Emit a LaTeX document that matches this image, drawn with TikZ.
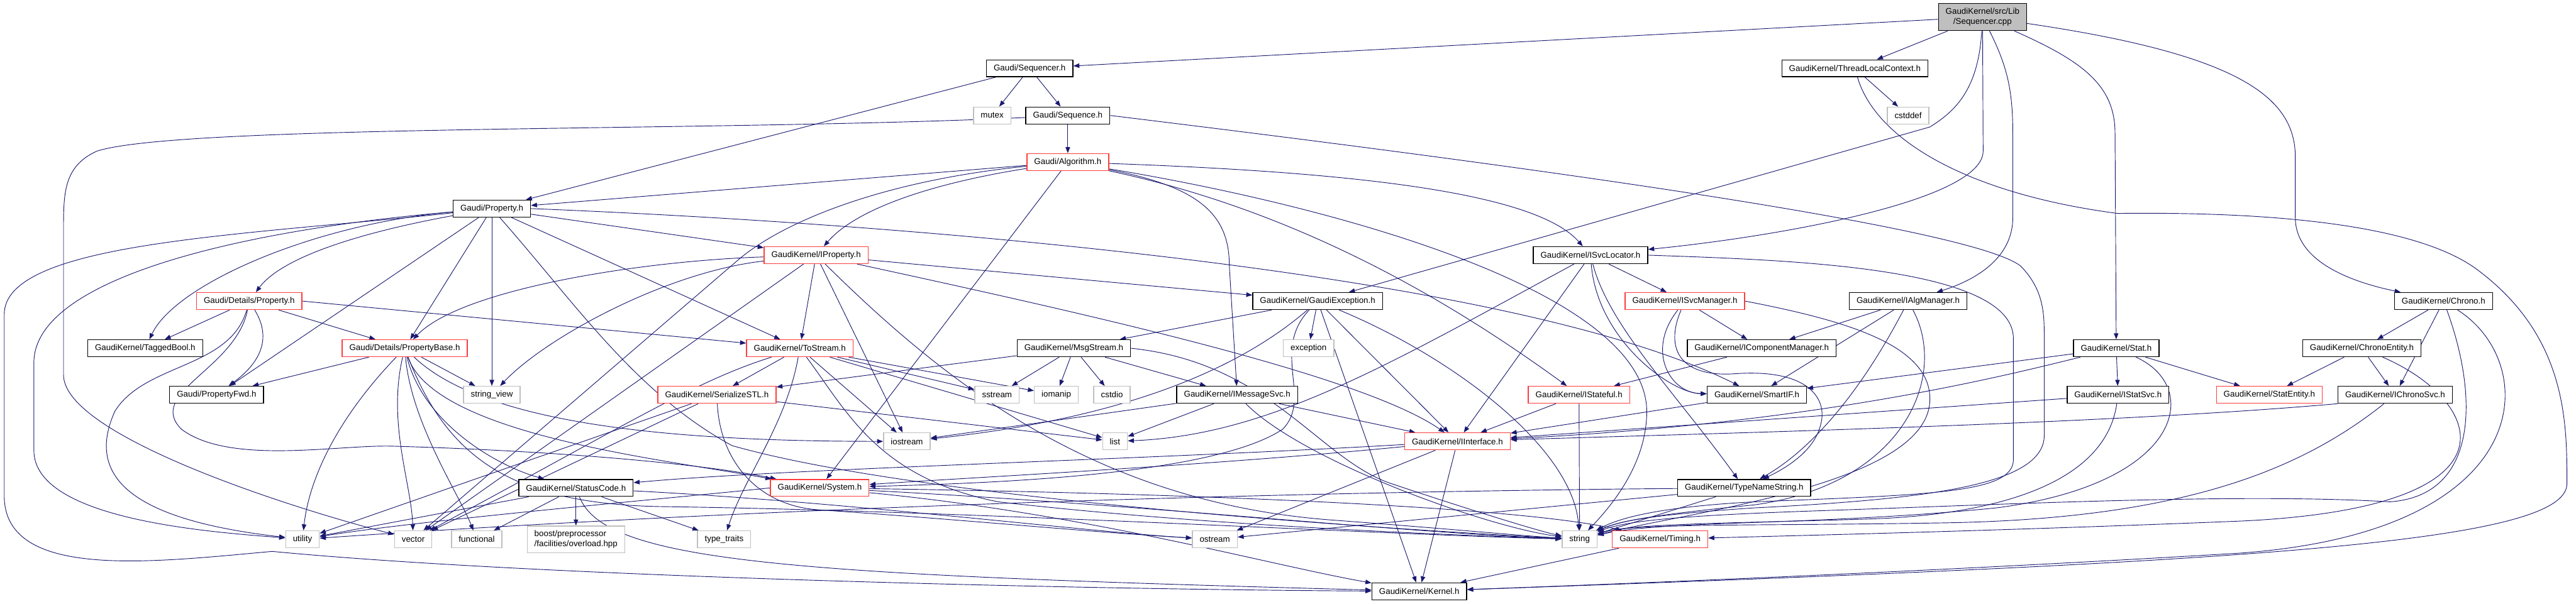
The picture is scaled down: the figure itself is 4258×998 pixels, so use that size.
\documentclass[tikz,border=0pt]{standalone}
\usepackage{fontspec}
\setmainfont{Liberation Sans}
\usetikzlibrary{arrows.meta,backgrounds}
\definecolor{edgeblue}{RGB}{25,25,112}
\definecolor{truncred}{RGB}{255,60,60}
\begin{document}
\begin{tikzpicture}[x=0.02cm, y=-0.02cm,
  hdr/.style={draw=black, line width=0.8pt, fill=white, inner xsep=0.24cm, inner ysep=0pt,
    minimum height=0.56cm, font=\fontsize{7.9}{9.4}\selectfont},
  hdrtrunc/.style={hdr, draw=truncred},
  syshdr/.style={hdr, draw=black!25},
  srcfile/.style={hdr, fill=black!25, minimum height=0.9cm, align=center},
  dep/.style={draw=edgeblue, line width=0.55pt, -{Triangle[length=0.2cm, width=0.15cm]}}]
\useasboundingbox (0,0) rectangle (4258,998);
% headers, row by row
\node[srcfile] (src) at (3277,28) {GaudiKernel/src/Lib\\/Sequencer.cpp};
\node[hdr] (seqr) at (1702,113) {Gaudi/Sequencer.h};
\node[hdr] (tlc) at (3066,113) {GaudiKernel/ThreadLocalContext.h};
\node[syshdr] (mutex) at (1640,191) {mutex};
\node[hdr] (seq) at (1765,191) {Gaudi/Sequence.h};
\node[syshdr] (cstddef) at (3154,191) {cstddef};
\node[hdrtrunc] (algo) at (1765,268) {Gaudi/Algorithm.h};
\node[hdr] (prop) at (813,345) {Gaudi/Property.h};
\node[hdrtrunc] (iprop) at (1349,422) {GaudiKernel/IProperty.h};
\node[hdr] (isvcloc) at (2629,422) {GaudiKernel/ISvcLocator.h};
\node[hdrtrunc] (dprop) at (412,498) {Gaudi/Details/Property.h};
\node[hdr] (gexc) at (2178,498) {GaudiKernel/GaudiException.h};
\node[hdrtrunc] (isvcmgr) at (2785,498) {GaudiKernel/ISvcManager.h};
\node[hdr] (ialgmgr) at (3154,498) {GaudiKernel/IAlgManager.h};
\node[hdr] (chrono) at (4039,498) {GaudiKernel/Chrono.h};
\node[hdr] (tagged) at (240,576) {GaudiKernel/TaggedBool.h};
\node[hdrtrunc] (pbase) at (669,576) {Gaudi/Details/PropertyBase.h};
\node[hdrtrunc] (tostream) at (1322,576) {GaudiKernel/ToStream.h};
\node[hdr] (msgstream) at (1775,576) {GaudiKernel/MsgStream.h};
\node[syshdr] (exception) at (2163,576) {exception};
\node[hdr] (icompmgr) at (2912,576) {GaudiKernel/IComponentManager.h};
\node[hdr] (stat) at (3498,576) {GaudiKernel/Stat.h};
\node[hdr] (chronoent) at (3904,576) {GaudiKernel/ChronoEntity.h};
\node[hdr] (pfwd) at (358,653) {Gaudi/PropertyFwd.h};
\node[syshdr] (strview) at (813,653) {string\_view};
\node[hdrtrunc] (sstl) at (1185,653) {GaudiKernel/SerializeSTL.h};
\node[syshdr] (sstream) at (1648,653) {sstream};
\node[syshdr] (iomanip) at (1746,653) {iomanip};
\node[syshdr] (cstdio) at (1838,653) {cstdio};
\node[hdr] (imsgsvc) at (2045,653) {GaudiKernel/IMessageSvc.h};
\node[hdrtrunc] (istateful) at (2610,653) {GaudiKernel/IStateful.h};
\node[hdr] (smartif) at (2904,653) {GaudiKernel/SmartIF.h};
\node[hdr] (istatsvc) at (3501,653) {GaudiKernel/IStatSvc.h};
\node[hdrtrunc] (statent) at (3751,653) {GaudiKernel/StatEntity.h};
\node[hdr] (ichronosvc) at (3959,653) {GaudiKernel/IChronoSvc.h};
\node[syshdr] (iostream) at (1499,730) {iostream};
\node[syshdr] (list) at (1843,730) {list};
\node[hdrtrunc] (iinterface) at (2409,730) {GaudiKernel/IInterface.h};
\node[hdr] (statuscode) at (952,807) {GaudiKernel/StatusCode.h};
\node[hdrtrunc] (system) at (1355,807) {GaudiKernel/System.h};
\node[hdr] (typename) at (2883,807) {GaudiKernel/TypeNameString.h};
\node[syshdr] (utility) at (500,892) {utility};
\node[syshdr] (vector) at (683,892) {vector};
\node[syshdr] (functional) at (788,892) {functional};
\node[syshdr, align=left, minimum height=0.88cm] (boost) at (952,892) {boost/preprocessor\\/facilities/overload.hpp};
\node[syshdr] (typetraits) at (1197,892) {type\_traits};
\node[syshdr] (ostream) at (2008,892) {ostream};
\node[syshdr] (string) at (2611,892) {string};
\node[hdrtrunc] (timing) at (2744,892) {GaudiKernel/Timing.h};
\node[hdr] (kernel) at (2346,978) {GaudiKernel/Kernel.h};
\begin{scope}[on background layer]
% the source file
\draw[dep] (src) -- (seqr);
\draw[dep] (src) -- (tlc);
\draw[dep] (src) .. controls (3270,150) and (3230,185) .. (3190,210) -- (gexc);
\draw[dep] (src) -- (3278,250) .. controls (3278,330) and (2950,390) .. (isvcloc);
\draw[dep] (src) .. controls (3318,110) and (3327,150) .. (3327,220) -- (3327,360) .. controls (3327,430) and (3260,465) .. (ialgmgr);
\draw[dep] (src) .. controls (3440,100) and (3496,140) .. (3496,220) -- (stat);
\draw[dep] (src) .. controls (3700,90) and (3794,160) .. (3794,260) -- (3794,360) .. controls (3794,430) and (3880,465) .. (chrono);
% Sequencer.h, ThreadLocalContext.h, Sequence.h
\draw[dep] (seqr) -- (mutex);
\draw[dep] (seqr) -- (seq);
\draw[dep] (seqr) -- (prop);
\draw[dep] (tlc) -- (cstddef);
\draw[dep] (tlc) .. controls (3100,230) and (3250,320) .. (3500,353) .. controls (3750,350) and (4000,370) .. (4100,450)
  .. controls (4243,560) and (4243,700) .. (4243,800) .. controls (4243,900) and (3700,930) .. (kernel);
\draw[dep] (seq) -- (algo);
\draw[dep] (seq) .. controls (1200,218) and (300,205) .. (160,250) .. controls (105,275) and (105,320) .. (105,380)
  -- (105,620) .. controls (105,720) and (480,840) .. (vector);
\draw[dep] (seq.east) .. controls (2400,260) and (3250,370) .. (3340,440) .. controls (3379,480) and (3379,520) .. (3379,560)
  -- (3379,720) .. controls (3379,800) and (3200,825) .. (2900,840) .. controls (2750,850) and (2680,860) .. (string);
% Algorithm.h
\draw[dep] (algo) -- (prop);
\draw[dep] (algo) .. controls (1560,300) and (1420,340) .. (iprop);
\draw[dep] (algo) .. controls (1450,300) and (1290,370) .. (1220,430) -- (vector);
\draw[dep] (algo) -- (system);
\draw[dep] (algo) .. controls (2250,285) and (2540,320) .. (isvcloc);
\draw[dep] (algo) .. controls (1990,310) and (2032,360) .. (2032,440) -- (imsgsvc);
\draw[dep] (algo) .. controls (2150,350) and (2400,500) .. (istateful);
\draw[dep] (algo) .. controls (2200,340) and (2720,480) .. (2722,680) .. controls (2722,770) and (2660,840) .. (string);
% Property.h
\draw[dep] (prop) .. controls (620,380) and (470,420) .. (dprop);
\draw[dep] (prop) .. controls (520,370) and (290,470) .. (tagged);
\draw[dep] (prop) -- (pfwd);
\draw[dep] (prop) -- (pbase);
\draw[dep] (prop) -- (strview);
\draw[dep] (prop) -- (tostream);
\draw[dep] (prop) -- (iprop);
\draw[dep] (prop.east) .. controls (1500,370) and (2500,450) .. (smartif);
\draw[dep] (prop) .. controls (400,390) and (7,400) .. (7,520) -- (7,820) .. controls (7,960) and (250,930) .. (450,912)
  .. controls (900,955) and (1800,975) .. (kernel);
\draw[dep] (prop) .. controls (400,380) and (56,460) .. (56,600) -- (56,745) .. controls (56,860) and (350,880) .. (utility);
\draw[dep] (prop) .. controls (950,500) and (1050,650) .. (1210,737) .. controls (1500,820) and (2200,870) .. (string);
% Details/Property.h
\draw[dep] (dprop) -- (tagged);
\draw[dep] (dprop) .. controls (450,560) and (430,600) .. (pfwd);
\draw[dep] (dprop) -- (pbase);
\draw[dep] (dprop.east) -- (tostream);
\draw[dep] (dprop) .. controls (380,610) and (240,600) .. (190,680) .. controls (140,790) and (220,860) .. (utility);
\draw[dep] (dprop) .. controls (390,610) and (240,650) .. (300,710) .. controls (380,770) and (560,735) .. (650,738)
  .. controls (900,745) and (1150,765) .. (system);
% IProperty.h
\draw[dep] (iprop) .. controls (1050,432) and (760,480) .. (pbase);
\draw[dep] (iprop) .. controls (1100,450) and (900,560) .. (strview);
\draw[dep] (iprop) -- (tostream);
\draw[dep] (iprop) -- (vector);
\draw[dep] (iprop) -- (iostream);
\draw[dep] (iprop) .. controls (1550,620) and (1800,830) .. (2200,860) .. controls (2400,875) and (2500,885) .. (string);
\draw[dep] (iprop) -- (gexc);
\draw[dep] (iprop) .. controls (1800,520) and (2250,620) .. (iinterface);
% PropertyBase.h
\draw[dep] (pbase) -- (pfwd);
\draw[dep] (pbase) -- (strview);
\draw[dep] (pbase) .. controls (550,700) and (510,800) .. (utility);
\draw[dep] (pbase) .. controls (640,700) and (680,800) .. (vector);
\draw[dep] (pbase) .. controls (680,700) and (760,820) .. (functional);
\draw[dep] (pbase) .. controls (700,700) and (820,770) .. (statuscode);
\draw[dep] (pbase) .. controls (720,720) and (1100,760) .. (system);
\draw[dep] (pbase) .. controls (800,700) and (1100,730) .. (iostream);
\draw[dep] (pbase) .. controls (740,760) and (850,835) .. (1100,838) .. controls (1600,845) and (2300,885) .. (string);
% ToStream.h, SerializeSTL.h, MsgStream.h
\draw[dep] (tostream) -- (sstl);
\draw[dep] (tostream) -- (sstream);
\draw[dep] (tostream) -- (iomanip);
\draw[dep] (tostream) -- (iostream);
\draw[dep] (tostream) -- (list);
\draw[dep] (tostream) .. controls (1400,680) and (1450,790) .. (1650,830) .. controls (2000,870) and (2400,885) .. (string);
\draw[dep] (tostream) .. controls (1150,630) and (1040,700) .. (vector);
\draw[dep] (tostream) .. controls (1300,700) and (1230,790) .. (typetraits);
\draw[dep] (sstl) -- (utility);
\draw[dep] (sstl) -- (vector);
\draw[dep] (sstl) -- (list);
\draw[dep] (sstl) .. controls (1190,760) and (1250,835) .. (1350,843) .. controls (1600,860) and (1800,880) .. (ostream);
\draw[dep] (msgstream) -- (sstl);
\draw[dep] (msgstream) -- (sstream);
\draw[dep] (msgstream) -- (iomanip);
\draw[dep] (msgstream) -- (cstdio);
\draw[dep] (msgstream) -- (imsgsvc);
\draw[dep] (msgstream.east) .. controls (2100,600) and (2180,760) .. (2300,800) .. controls (2450,850) and (2550,880) .. (string);
% GaudiException.h, IMessageSvc.h, IStateful.h
\draw[dep] (gexc) -- (exception);
\draw[dep] (gexc) -- (msgstream);
\draw[dep] (gexc) .. controls (2060,600) and (1880,690) .. (iostream);
\draw[dep] (gexc) .. controls (2100,580) and (2170,660) .. (2120,710) .. controls (2000,790) and (1600,800) .. (system);
\draw[dep] (gexc) -- (kernel);
\draw[dep] (gexc) -- (iinterface);
\draw[dep] (gexc) .. controls (2400,590) and (2600,740) .. (string);
\draw[dep] (imsgsvc) -- (iinterface);
\draw[dep] (imsgsvc) -- (list);
\draw[dep] (imsgsvc) -- (iostream);
\draw[dep] (imsgsvc) .. controls (2150,760) and (2450,870) .. (string);
\draw[dep] (istateful) -- (iinterface);
\draw[dep] (istateful) -- (string);
% ISvcLocator.h, ISvcManager.h, IAlgManager.h
\draw[dep] (isvcloc) -- (isvcmgr);
\draw[dep] (isvcloc) .. controls (2640,560) and (2760,650) .. (smartif);
\draw[dep] (isvcloc) -- (iinterface);
\draw[dep] (isvcloc) .. controls (2300,600) and (2100,720) .. (list);
\draw[dep] (isvcloc) .. controls (2660,540) and (2770,650) .. (typename);
\draw[dep] (isvcloc.east) .. controls (2950,430) and (3328,440) .. (3328,560) -- (3328,760) .. controls (3328,815) and (3200,818) .. (2900,830)
  .. controls (2750,838) and (2680,855) .. (string);
\draw[dep] (isvcmgr) -- (icompmgr);
\draw[dep] (isvcmgr) .. controls (2720,580) and (2760,650) .. (smartif);
\draw[dep] (isvcmgr) .. controls (2750,580) and (2780,625) .. (2870,618) .. controls (2990,610) and (3020,660) .. (3010,700)
  .. controls (3000,750) and (2940,780) .. (typename);
\draw[dep] (isvcmgr.east) .. controls (3050,530) and (3190,570) .. (3190,660) .. controls (3190,800) and (2800,845) .. (string);
\draw[dep] (icompmgr) -- (istateful);
\draw[dep] (ialgmgr) -- (icompmgr);
\draw[dep] (ialgmgr) -- (smartif);
\draw[dep] (ialgmgr) .. controls (3080,640) and (3000,740) .. (typename);
\draw[dep] (ialgmgr) .. controls (3220,620) and (3150,800) .. (2900,835) .. controls (2750,850) and (2680,860) .. (string);
\draw[dep] (smartif) -- (iinterface);
% Stat.h, Chrono.h and their services
\draw[dep] (stat) -- (istatsvc);
\draw[dep] (stat) -- (statent);
\draw[dep] (stat) -- (smartif);
\draw[dep] (stat) .. controls (3300,625) and (3000,700) .. (iinterface);
\draw[dep] (stat) .. controls (3640,640) and (3610,800) .. (3300,840) .. controls (3000,870) and (2750,860) .. (string);
\draw[dep] (istatsvc) -- (iinterface);
\draw[dep] (istatsvc) .. controls (3480,800) and (3300,850) .. (3100,858) .. controls (2900,865) and (2700,865) .. (string);
\draw[dep] (ichronosvc.south west) .. controls (3500,700) and (2900,715) .. (iinterface);
\draw[dep] (ichronosvc) .. controls (3800,780) and (3600,860) .. (3200,865) .. controls (2900,870) and (2700,865) .. (string);
\draw[dep] (chronoent) -- (statent);
\draw[dep] (chronoent) -- (ichronosvc);
\draw[dep] (chronoent) .. controls (4100,660) and (4190,840) .. (3700,862) .. controls (3300,878) and (3000,885) .. (timing);
\draw[dep] (chrono) -- (chronoent);
\draw[dep] (chrono) -- (ichronosvc);
\draw[dep] (chrono) .. controls (4095,650) and (4100,820) .. (3950,830) .. controls (3700,815) and (3300,835) .. (3000,845)
  .. controls (2800,852) and (2690,860) .. (string);
\draw[dep] (chrono) .. controls (4200,600) and (4200,880) .. (3700,915) .. controls (3200,945) and (2700,965) .. (kernel);
% IInterface.h, System.h, StatusCode.h, TypeNameString.h, Timing.h
\draw[dep] (iinterface) .. controls (1900,760) and (1300,775) .. (statuscode);
\draw[dep] (iinterface) .. controls (2000,770) and (1600,790) .. (system);
\draw[dep] (iinterface) -- (ostream);
\draw[dep] (iinterface) -- (kernel);
\draw[dep] (system) .. controls (1900,815) and (2500,835) .. (timing);
\draw[dep] (system) .. controls (1800,850) and (2100,935) .. (kernel);
\draw[dep] (system) .. controls (1900,835) and (2300,880) .. (string);
\draw[dep] (system.west) .. controls (1100,825) and (700,860) .. (utility);
\draw[dep] (statuscode) -- (utility);
\draw[dep] (statuscode) -- (functional);
\draw[dep] (statuscode) -- (boost);
\draw[dep] (statuscode) -- (typetraits);
\draw[dep] (statuscode) .. controls (1400,830) and (1800,880) .. (ostream);
\draw[dep] (statuscode) .. controls (1000,930) and (1300,950) .. (kernel);
\draw[dep] (typename) -- (string);
\draw[dep] (typename) -- (ostream);
\draw[dep] (typename) .. controls (2300,812) and (1400,830) .. (utility);
\draw[dep] (timing) -- (kernel);
\end{scope}
\end{tikzpicture}
\end{document}
